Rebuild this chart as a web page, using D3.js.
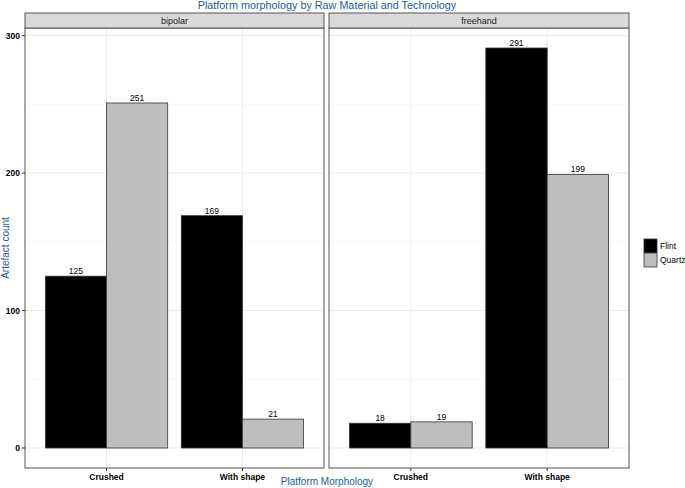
<!DOCTYPE html>
<html><head><meta charset="utf-8">
<script src="https://cdn.jsdelivr.net/npm/d3@7"></script>
<style>body{margin:0;background:#fff;font-family:"Liberation Sans",Arial,sans-serif;}</style>
</head><body>
<svg id="c" width="685" height="488"></svg>
<script>
const technologies = ["bipolar", "freehand"];
const morphologies = ["Crushed", "With shape"];
const materials = ["Flint", "Quartz"];
const bipolarFlint = [125, 169];
const bipolarQuartz = [251, 21];
const freehandFlint = [18, 291];
const freehandQuartz = [19, 199];
const yTicks = [0, 100, 200, 300];
const yMinor = [50, 150, 250];
const colors = ["#000000", "#bebebe"];

const data = {
  bipolar: [bipolarFlint, bipolarQuartz],
  freehand: [freehandFlint, freehandQuartz]
};

const svg = d3.select("#c");
const panelTop = 28, panelBottom = 468;
const panels = [{x0: 25, x1: 324}, {x0: 329, x1: 629}];
const maxV = d3.max([...bipolarFlint, ...bipolarQuartz, ...freehandFlint, ...freehandQuartz]);
const y = d3.scaleLinear().domain([-0.05 * maxV, maxV * 1.05]).range([panelBottom, panelTop]);
const blue = "#245a9e";

// title
svg.append("text").attr("x", 327).attr("y", 9).attr("text-anchor", "middle")
  .attr("font-size", 10.8).attr("fill", blue).text("Platform morphology by Raw Material and Technology");

technologies.forEach((tech, pi) => {
  const p = panels[pi];
  // ggplot discrete expand: positions at 1..n, domain [0.4, n+0.6]
  const xc = d3.scaleLinear().domain([0.4, morphologies.length + 0.6]).range([p.x0, p.x1]);
  const g = svg.append("g");
  g.append("rect").attr("x", p.x0).attr("y", panelTop).attr("width", p.x1 - p.x0).attr("height", panelBottom - panelTop).attr("fill", "#fff");
  yMinor.forEach(v => g.append("line").attr("x1", p.x0).attr("x2", p.x1).attr("y1", y(v)).attr("y2", y(v)).attr("stroke", "#f2f2f2").attr("stroke-width", 0.6));
  yTicks.forEach(v => g.append("line").attr("x1", p.x0).attr("x2", p.x1).attr("y1", y(v)).attr("y2", y(v)).attr("stroke", "#ebebeb").attr("stroke-width", 1));
  morphologies.forEach((m, i) => g.append("line").attr("x1", xc(i + 1)).attr("x2", xc(i + 1)).attr("y1", panelTop).attr("y2", panelBottom).attr("stroke", "#ebebeb").attr("stroke-width", 1));
  const bw = 0.45;
  materials.forEach((mat, si) => {
    data[tech][si].forEach((v, i) => {
      const left = xc(i + 1 - 0.45 + si * bw);
      const right = xc(i + 1 - 0.45 + (si + 1) * bw);
      g.append("rect").attr("x", left).attr("y", y(v)).attr("width", right - left).attr("height", y(0) - y(v))
        .attr("fill", colors[si]).attr("stroke", "#333").attr("stroke-width", 0.8);
      g.append("text").attr("x", (left + right) / 2).attr("y", y(v) - 2).attr("text-anchor", "middle")
        .attr("font-size", 8.5).attr("fill", "#000").text(v);
    });
  });
  g.append("rect").attr("x", p.x0).attr("y", panelTop).attr("width", p.x1 - p.x0).attr("height", panelBottom - panelTop)
    .attr("fill", "none").attr("stroke", "#555").attr("stroke-width", 1);
  g.append("rect").attr("x", p.x0).attr("y", 13).attr("width", p.x1 - p.x0).attr("height", 15)
    .attr("fill", "#d9d9d9").attr("stroke", "#555").attr("stroke-width", 1);
  g.append("text").attr("x", (p.x0 + p.x1) / 2).attr("y", 24).attr("text-anchor", "middle")
    .attr("font-size", 9).attr("fill", "#1a1a1a").text(tech);
  morphologies.forEach((m, i) => {
    g.append("line").attr("x1", xc(i + 1)).attr("x2", xc(i + 1)).attr("y1", panelBottom).attr("y2", panelBottom + 3).attr("stroke", "#333");
    g.append("text").attr("x", xc(i + 1)).attr("y", panelBottom + 12).attr("text-anchor", "middle")
      .attr("font-size", 8.5).attr("font-weight", "bold").attr("fill", "#000").text(m);
  });
});

const yg = svg.append("g").attr("transform", `translate(${panels[0].x0},0)`);
yTicks.forEach(v => {
  yg.append("line").attr("x1", -3).attr("x2", 0).attr("y1", y(v)).attr("y2", y(v)).attr("stroke", "#333");
  yg.append("text").attr("x", -5).attr("y", y(v) + 3).attr("text-anchor", "end")
    .attr("font-size", 8.5).attr("font-weight", "bold").attr("fill", "#000").text(v);
});
svg.append("text").attr("transform", `translate(9,${(panelTop + panelBottom) / 2}) rotate(-90)`)
  .attr("text-anchor", "middle").attr("font-size", 10).attr("fill", blue).text("Artefact count");
svg.append("text").attr("x", 327).attr("y", 485).attr("text-anchor", "middle")
  .attr("font-size", 10).attr("fill", blue).text("Platform Morphology");

materials.forEach((mat, si) => {
  const ly = 239 + si * 14;
  svg.append("rect").attr("x", 644).attr("y", ly).attr("width", 13).attr("height", 14)
    .attr("fill", colors[si]).attr("stroke", "#333").attr("stroke-width", 0.8);
  svg.append("text").attr("x", 660).attr("y", ly + 10).attr("font-size", 8.5).attr("fill", "#000").text(mat);
});
</script>
</body></html>
